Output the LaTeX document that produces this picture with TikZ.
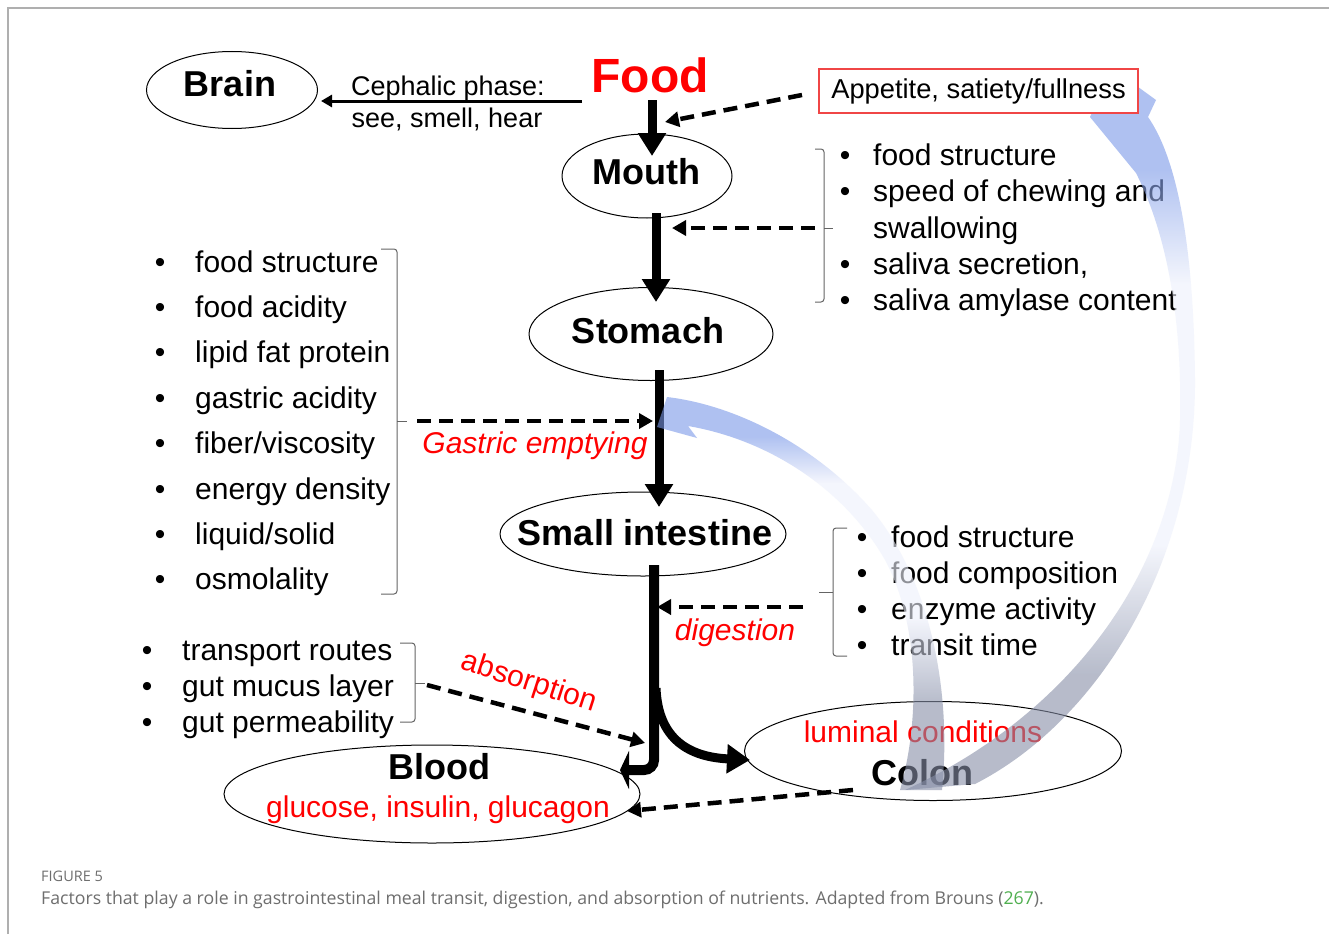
\documentclass[tikz,border=0pt]{standalone}
\usepackage{fontspec}
\setmainfont{Liberation Sans}
\newfontfamily\capfont{Open Sans}
\usetikzlibrary{arrows.meta,shapes.geometric}
\definecolor{boxred}{RGB}{240,70,70}
\definecolor{bracegray}{RGB}{100,100,100}
\definecolor{framegray}{RGB}{175,175,175}
\definecolor{capgray}{RGB}{110,110,110}
\definecolor{capgreen}{RGB}{80,175,80}
\definecolor{bandtop}{RGB}{122,152,232}
\definecolor{bandmid}{RGB}{238,241,252}
\definecolor{bandbot}{RGB}{135,143,168}
\pgfdeclareverticalshading{bandA}{100bp}{color(0bp)=(bandbot); color(33bp)=(bandbot); color(42bp)=(bandmid); color(60bp)=(bandmid); color(68bp)=(bandtop); color(100bp)=(bandtop)}
\pgfdeclareverticalshading{bandB}{100bp}{color(0bp)=(bandbot); color(36bp)=(bandbot); color(47bp)=(bandmid); color(64bp)=(bandmid); color(70bp)=(bandtop); color(100bp)=(bandtop)}
\begin{document}
\begin{tikzpicture}[x=1pt,y=-1pt,
  organ/.style={ellipse, draw=black, line width=1pt, inner sep=0pt},
  organlbl/.style={font=\fontsize{36}{40}\selectfont\bfseries, inner sep=0pt},
  item/.style={font=\fontsize{30}{34}\selectfont, anchor=base west, inner sep=0pt},
  bul/.style={font=\fontsize{30}{34}\selectfont, anchor=base, inner sep=0pt},
  redlbl/.style={text=red, font=\fontsize{30}{34}\selectfont, inner sep=0pt},
  bigarrow/.style={line width=9pt, -{Triangle[length=23pt,width=27pt]}},
  dasharrow/.style={line width=4.5pt, dash pattern=on 14pt off 8pt, -{Triangle[length=14pt,width=15pt]}},
  bracep/.style={draw=bracegray, line width=1pt, rounded corners=3pt},
  bandstyle/.style={opacity=0.6}
]
\useasboundingbox (0,0) rectangle (1329,934);
\fill[white] (0,0) rectangle (1329,934);
\draw[framegray, line width=1.2pt] (8,934) -- (8,8) -- (1329,8);

% organs
\node[organ, minimum width=171pt, minimum height=77pt] (brain) at (232,90) {};
\node[organlbl] (brainlbl) at (230,84) {Brain};
\node[organ, minimum width=170pt, minimum height=84pt] (mouth) at (647,176) {};
\node[organlbl] (mouthlbl) at (646,172) {Mouth};
\node[organ, minimum width=244pt, minimum height=93pt] (stomach) at (651,334) {};
\node[organlbl] (stomachlbl) at (648,331) {Stomach};
\node[organ, minimum width=286pt, minimum height=84pt] (si) at (643,534) {};
\node[organlbl] (silbl) at (645,533) {Small intestine};
\node[organ, minimum width=416pt, minimum height=98pt] (blood) at (432,794) {};
\node[organlbl] (bloodlbl) at (439,767) {Blood};
\node[redlbl, anchor=base] (bloodsub) at (438,817) {glucose, insulin, glucagon};
\node[organ, minimum width=377pt, minimum height=99pt] (colon) at (933,751) {};
\node[redlbl] (colonsub) at (923,732) {luminal conditions};
\node[organlbl] (colonlbl) at (922,773) {Colon};

\node[text=red, font=\fontsize{48}{52}\selectfont\bfseries, inner sep=0pt] (food) at (650,75) {Food};

% cephalic
\node[font=\fontsize{27}{30}\selectfont, anchor=base, inner sep=0pt] (ceph1) at (448,95) {Cephalic phase:};
\node[font=\fontsize{27}{30}\selectfont, anchor=base, inner sep=0pt] (ceph2) at (447,127) {see, smell, hear};
\coordinate (cephs) at (582,101);
\coordinate (cephe) at (321,101);
\draw[line width=3pt, -{Triangle[length=11pt,width=12pt]}] (cephs) -- (cephe);

% lists
\foreach \t [count=\i] in {food structure, food acidity, lipid fat protein, gastric acidity, fiber/viscosity, energy density, liquid/solid, osmolality}{
  \node[bul] (lb\i) at (160,{272+45.4*(\i-1)}) {•};
  \node[item] (lt\i) at (195,{272+45.4*(\i-1)}) {\t};
}
\node[bul] (mb1) at (845,165) {•}; \node[item] (mt1) at (873,165) {food structure};
\node[bul] (mb2) at (845,201) {•}; \node[item] (mt2) at (873,201) {speed of chewing and};
\node[item] (mt3) at (873,238) {swallowing};
\node[bul] (mb4) at (845,274) {•}; \node[item] (mt4) at (873,274) {saliva secretion,};
\node[bul] (mb5) at (845,310) {•}; \node[item] (mt5) at (873,310) {saliva amylase content};

\node[bul] (sb1) at (862,547) {•}; \node[item] (st1) at (891,547) {food structure};
\node[bul] (sb2) at (862,583) {•}; \node[item] (st2) at (891,583) {food composition};
\node[bul] (sb3) at (862,619) {•}; \node[item] (st3) at (891,619) {enzyme activity};
\node[bul] (sb4) at (862,655) {•}; \node[item] (st4) at (891,655) {transit time};

\node[bul] (ab1) at (147,660) {•}; \node[item] (at1) at (182,660) {transport routes};
\node[bul] (ab2) at (147,696) {•}; \node[item] (at2) at (182,696) {gut mucus layer};
\node[bul] (ab3) at (147,732) {•}; \node[item] (at3) at (182,732) {gut permeability};

% braces
\draw[bracep] (381,249) -- (397,249) -- (397,421) -- (397,594) -- (381,594);
\draw[bracep] (397,421) -- (407,421);
\draw[bracep] (815,149) -- (824,149) -- (824,228) -- (824,302) -- (815,302);
\draw[bracep] (824,228) -- (833,228);
\draw[bracep] (847,528) -- (833,528) -- (833,592) -- (833,656) -- (847,656);
\draw[bracep] (833,592) -- (819,592);
\draw[bracep] (400,643) -- (415,643) -- (415,683) -- (415,722) -- (400,722);
\draw[bracep] (415,683) -- (425,683);

% labels
\node[redlbl, font=\fontsize{30}{34}\selectfont\itshape, anchor=base] (gastric) at (535,453) {Gastric emptying};
\node[redlbl, font=\fontsize{30}{34}\selectfont\itshape, anchor=base] (digest) at (735,640) {digestion};
\node[redlbl, rotate=-18] (absorb) at (529,683) {absorption};

% main flow
\coordinate (f1) at (652,100); \coordinate (f2) at (652,156);
\draw[bigarrow] (f1) -- (f2);
\coordinate (m1) at (656,213); \coordinate (m2) at (656,302);
\draw[bigarrow] (m1) -- (m2);
\coordinate (s1) at (659,370); \coordinate (s2) at (659,507);
\draw[bigarrow] (s1) -- (s2);
\coordinate (i1) at (654,565); \coordinate (i2) at (654,770); \coordinate (i3) at (620,770);
\draw[line width=10pt, rounded corners=10pt, -{Triangle[length=9pt,width=38pt]}] (i1) -- (i2) -- (i3);
\coordinate (c1) at (656,688); \coordinate (c2) at (750,760);
\draw[line width=9pt, -{Triangle[length=23pt,width=28pt]}] (c1) .. controls (658,740) and (690,757) .. (c2);

% dashed influences
\coordinate (ap1) at (802,95); \coordinate (ap2) at (665,122);
\draw[dasharrow] (ap1) -- (ap2);
\coordinate (md1) at (815,228); \coordinate (md2) at (672,228);
\draw[dasharrow] (md1) -- (md2);
\coordinate (gd1) at (417,421); \coordinate (gd2) at (653,421);
\draw[dasharrow] (gd1) -- (gd2);
\coordinate (dd1) at (803,607); \coordinate (dd2) at (657,607);
\draw[dasharrow] (dd1) -- (dd2);
\coordinate (ad1) at (427,685); \coordinate (ad2) at (645,743);
\draw[dasharrow] (ad1) -- (ad2);
\coordinate (cb1) at (853,790); \coordinate (cb2) at (627,811);
\draw[dasharrow] (cb1) -- (cb2);

% translucent feedback arrows
\shade[bandstyle, shading=bandA] (975,784) .. controls (1100,720) and (1196,560) .. (1195,380)
  .. controls (1194,250) and (1178,160) .. (1148,117)
  -- (1156,100) -- (1112,68) -- (1090,117) -- (1136,173)
  .. controls (1170,240) and (1182,330) .. (1180,420)
  .. controls (1176,560) and (1080,710) .. (905,790) -- cycle;
\shade[bandstyle, shading=bandB] (942,790) .. controls (952,690) and (930,580) .. (872,510)
  .. controls (815,445) and (735,405) .. (667,397)
  -- (657,427) -- (697,438) -- (688,426)
  .. controls (770,440) and (845,490) .. (885,560)
  .. controls (920,625) and (920,720) .. (900,790) -- cycle;

\node[draw=boxred, fill=white, line width=1.3pt, minimum width=319pt, minimum height=44pt, inner sep=0pt, font=\fontsize{27.3}{30}\selectfont] (appetite) at (978.5,91) {Appetite, satiety/fullness};

% caption
\node[anchor=base west, inner sep=0pt, text=capgray, font=\capfont\fontsize{14.5}{16}\selectfont] (figlbl) at (41,881) {FIGURE 5};
\node[anchor=base west, inner sep=0pt, text=capgray, font=\capfont\fontsize{17.7}{20}\selectfont] (caption) at (41,904) {Factors that play a role in gastrointestinal meal transit, digestion, and absorption of nutrients. Adapted from Brouns (\textcolor{capgreen}{267}).};
\end{tikzpicture}
\end{document}
